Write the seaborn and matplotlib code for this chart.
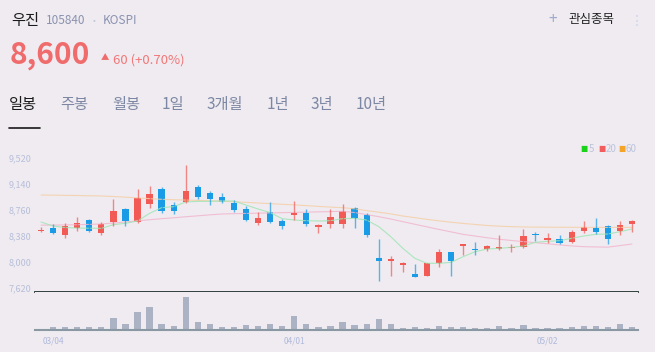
import numpy as np
import pandas as pd
import seaborn as sns
import matplotlib.pyplot as plt

# ---- data (daily candles, 50 sessions) ----
opens = [8450, 8493, 8395, 8493, 8610, 8425, 8581, 8772, 8586, 8850,
         9065, 8835, 8870, 9100, 9002, 8953, 8865, 8767, 8567, 8728,
         8596, 8690, 8709, 8508, 8547, 8557, 8791, 8689, 8053, 8014,
         7955, 7823, 7794, 7985, 8141, 8234, 8175, 8180, 8190, 8200,
         8219, 8390, 8322, 8327, 8293, 8449, 8498, 8527, 8449, 8550]
closes = [8470, 8420, 8522, 8571, 8449, 8557, 8742, 8596, 8938, 8987,
          8738, 8742, 9036, 8943, 8914, 8870, 8758, 8611, 8645, 8586,
          8523, 8700, 8557, 8538, 8655, 8738, 8645, 8395, 8009, 8033,
          7985, 7779, 7980, 8146, 8014, 8254, 8170, 8229, 8195, 8210,
          8376, 8385, 8327, 8278, 8439, 8503, 8435, 8337, 8540, 8600]
highs = [8510, 8547, 8571, 8659, 8625, 8581, 8918, 8782, 9060, 9114,
         9095, 8874, 9420, 9129, 9041, 9012, 8904, 8816, 8733, 8875,
         8630, 8885, 8772, 8552, 8767, 8845, 8796, 8708, 8327, 8082,
         7999, 7965, 7980, 8190, 8141, 8258, 8288, 8249, 8386, 8259,
         8479, 8440, 8420, 8391, 8464, 8596, 8640, 8537, 8596, 8616]
lows = [8430, 8400, 8341, 8449, 8434, 8395, 8517, 8527, 8566, 8791,
        8708, 8698, 8855, 8919, 8836, 8855, 8728, 8591, 8542, 8562,
        8474, 8611, 8528, 8425, 8489, 8493, 8498, 8366, 7716, 7789,
        7848, 7779, 7794, 7926, 7794, 8092, 8102, 8161, 8171, 8146,
        8205, 8307, 8268, 8254, 8278, 8425, 8405, 8259, 8386, 8430]
volumes = [14000, 60000, 60000, 60000, 60000, 46000, 226000, 106000, 354000, 446000,
           120000, 80000, 646000, 146000, 106000, 60000, 60000, 86000, 80000, 106000,
           80000, 274000, 106000, 60000, 74000, 146000, 94000, 106000, 214000, 106000,
           40000, 60000, 40000, 66000, 46000, 60000, 40000, 40000, 80000, 40000,
           86000, 40000, 26000, 40000, 60000, 80000, 66000, 46000, 106000, 60000]
ma5 = [8581, 8522, 8500, 8493, 8490, 8488, 8542, 8562, 8596, 8708,
       8791, 8806, 8875, 8884, 8884, 8889, 8889, 8830, 8772, 8718,
       8630, 8610, 8600, 8596, 8600, 8630, 8635, 8610, 8513, 8366,
       8195, 8048, 7975, 7975, 7989, 8072, 8146, 8185, 8195, 8209,
       8229, 8283, 8298, 8307, 8342, 8376, 8400, 8405, 8439, 8478]
ma20 = [8535, 8536, 8538, 8541, 8546, 8552, 8566, 8582, 8598, 8614,
        8630, 8643, 8658, 8672, 8686, 8699, 8703, 8707, 8711, 8714,
        8718, 8722, 8726, 8730, 8734, 8738, 8720, 8690, 8660, 8625,
        8586, 8548, 8510, 8472, 8436, 8400, 8375, 8350, 8328, 8310,
        8293, 8278, 8262, 8245, 8230, 8219, 8215, 8212, 8235, 8258]
ma60 = [8977, 8975, 8972, 8970, 8966, 8963, 8955, 8945, 8935, 8924,
        8914, 8908, 8903, 8898, 8892, 8887, 8878, 8869, 8860, 8850,
        8841, 8832, 8822, 8810, 8800, 8791, 8775, 8748, 8725, 8700,
        8669, 8645, 8620, 8598, 8578, 8560, 8545, 8530, 8520, 8513,
        8508, 8506, 8505, 8504, 8503, 8503, 8503, 8502, 8502, 8502]
price_ticks = [7620, 8000, 8380, 8760, 9140, 9520]
date_pos = [1, 21, 42]
date_labels = ['03/04', '04/01', '05/02']
tabs = ['일봉', '주봉', '월봉', '1일', '3개월', '1년', '3년', '10년']

BG = '#efebf1'
UP, DOWN = '#f25a55', '#1a9be6'
W, H = 655, 352

sns.set_style('white')
plt.rcParams['font.family'] = ['Noto Sans CJK KR', 'DejaVu Sans']

df = pd.DataFrame({'i': np.arange(len(opens)), 'open': opens, 'close': closes,
                   'high': highs, 'low': lows, 'vol': volumes,
                   'ma5': ma5, 'ma20': ma20, 'ma60': ma60})
df['up'] = df['close'] >= df['open']
df['color'] = np.where(df['up'], UP, DOWN)


def box(x0, y0, x1, y1):
    return [x0 / W, 1 - y1 / H, (x1 - x0) / W, (y1 - y0) / H]


def px(x, y):
    return x / W, 1 - y / H


fig = plt.figure(figsize=(W / 100, H / 100), dpi=100, facecolor=BG)

# ---- price pane ----
ax = fig.add_axes(box(35, 145, 638, 292))
ax.set_facecolor(BG)
for col, name in [('#f5cfa6', 'ma60'), ('#f2b6cc', 'ma20'), ('#9fe6b5', 'ma5')]:
    sns.lineplot(data=df, x='i', y=name, ax=ax, color=col, lw=0.8, alpha=0.85, legend=False)
ax.vlines(df['i'], df['low'], df['high'], colors=df['color'], lw=1.0, alpha=0.7)
body = (df['close'] - df['open']).abs().clip(lower=18)
ax.bar(df['i'], body, bottom=df[['open', 'close']].min(axis=1), width=0.52,
       color=df['color'], linewidth=0)
ax.set_xlim(-0.5, 49.5)
ax.set_ylim(7554, 9711)
ax.set_yticks(price_ticks)
ax.set_yticklabels([f'{v:,}' for v in price_ticks])
ax.set_xticks([])
ax.set_xlabel('')
ax.set_ylabel('')
ax.tick_params(axis='y', length=0, pad=2.5, labelsize=6.5, labelcolor='#b7bfd9')
for s in ['top', 'right', 'left']:
    ax.spines[s].set_visible(False)
ax.spines['bottom'].set_color('#22332e')
ax.spines['bottom'].set_linewidth(1.3)

# ---- volume pane ----
vx = fig.add_axes(box(35, 292, 638, 329.5))
vx.set_facecolor(BG)
vx.bar(df['i'], df['vol'], width=0.52, color='#abb2c4', linewidth=0)
vx.set_xlim(-0.5, 49.5)
vx.set_ylim(0, 750000)
vx.set_yticks([])
vx.set_xticks(date_pos)
vx.set_xticklabels(date_labels)
vx.tick_params(axis='x', length=3, width=1, color='#2a3a3a', pad=2,
               labelsize=6, labelcolor='#b0badb')
for s in ['top', 'right', 'left']:
    vx.spines[s].set_visible(False)
vx.spines['bottom'].set_color('#8a98a4')
vx.spines['bottom'].set_linewidth(1.5)

# ---- header ----
fig.text(*px(11, 21), '우진', fontsize=11, color='#1a1a1a', va='center')
fig.text(*px(46, 21), '105840', fontsize=8.5, color='#8a92b0', va='center')
fig.text(*px(93, 21), '•', fontsize=6, color='#c2c8dc', va='center')
fig.text(*px(103, 21), 'KOSPI', fontsize=8.5, color='#8a92b0', va='center')
fig.text(*px(10, 55), '8,600', fontsize=21.5, fontweight='bold', color='#f06b6b', va='center')
fig.text(*px(101, 58), '▲', fontsize=6, color='#f06b6b', va='center')
fig.text(*px(113, 60), '60 (+0.70%)', fontsize=9.5, color='#f07878', va='center')
fig.text(*px(553, 20), '+', fontsize=11, color='#9eabc9', va='center', ha='center')
fig.text(*px(568, 20), '관심종목', fontsize=9, color='#222222', va='center')
fig.text(*px(637, 21), '⋮', fontsize=10, color='#cdd4ea', va='center', ha='center',
         family=['DejaVu Sans'])

tab_x = [9, 60, 112, 162, 207, 267, 311, 356]
for t, x in zip(tabs, tab_x):
    fig.text(*px(x, 104), t, fontsize=11, va='center',
             color='#1a1a1a' if t == '일봉' else '#7c87a3')
fig.add_artist(plt.Line2D([9 / W, 40 / W], [1 - 128.5 / H] * 2, color='#1a1a1a', lw=1.2))

# ---- MA legend ----
for sx, col, lab in [(584, '#19d219', '5'), (601.5, '#f25c5c', '20'), (621.5, '#f5a42a', '60')]:
    fig.text(*px(sx, 149), '■', fontsize=5.5, color=col, va='center', ha='center',
             family=['DejaVu Sans'])
    fig.text(*px(sx + 4.5, 149), lab, fontsize=7, color='#bcc4dc', va='center')

fig.savefig('out.png', dpi=100, facecolor=BG)
